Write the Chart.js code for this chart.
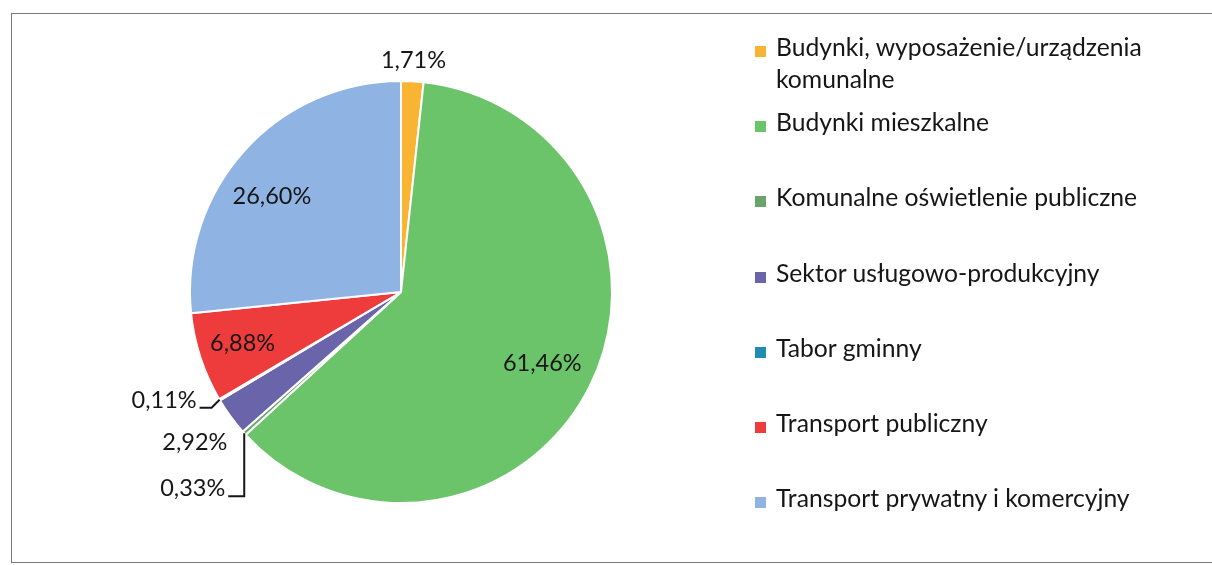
<!DOCTYPE html>
<html>
<head>
<meta charset="utf-8">
<script src="https://cdn.jsdelivr.net/npm/chart.js@4.4.0/dist/chart.umd.min.js"></script>
<style>
    html, body { margin: 0; padding: 0; background: #fff; }
    body { width: 1212px; height: 565px; position: relative; overflow: hidden; font-family: Lato, sans-serif; }
    #frame { position: absolute; left: 11px; top: 13px; width: 1220px; height: 548px; border: 1.5px solid #7a7a7a; }
    #pie { position: absolute; left: 0; top: 0; }
    #legend { position: absolute; left: 755px; top: 31px; color: #161616; font-size: 24.7px; line-height: 32px; }
    .item { position: relative; height: 75.2px; padding-left: 21px; white-space: nowrap; }
    .box { position: absolute; left: 0; top: 15px; width: 11px; height: 11px; }
</style>
</head>
<body>
<div id="frame"></div>
<canvas id="pie" width="800" height="565"></canvas>
<div id="legend"></div>
<script>
const categories = [
    ['Budynki, wyposażenie/urządzenia', 'komunalne'],
    'Budynki mieszkalne',
    'Komunalne oświetlenie publiczne',
    'Sektor usługowo-produkcyjny',
    'Tabor gminny',
    'Transport publiczny',
    'Transport prywatny i komercyjny'
];
const shares = [1.71, 61.46, 0.33, 2.92, 0.11, 6.88, 26.60];
const colors = ['#f9b434', '#6cc46a', '#6aa46a', '#6a64aa', '#1f8db2', '#ee3b3c', '#8fb4e3'];

// how each value label is placed: radial factor (+ small angle shift), or a leader line with an elbow
const labelPlacement = [
    { r: 1.10 },
    { r: 0.75 },
    { leader: [0, 63], run: 16 },
    { r: 1.21 },
    { leader: [-8, 8], run: 12 },
    { r: 0.79 },
    { r: 0.76, shift: -0.1 }
];

const fmt = v => v.toFixed(2).replace('.', ',') + '%';

const valueLabels = {
    id: 'valueLabels',
    afterDatasetsDraw(chart) {
        const ctx = chart.ctx;
        const arcs = chart.getDatasetMeta(0).data;
        ctx.save();
        ctx.font = '23.5px Lato';
        ctx.fillStyle = '#161616';
        ctx.strokeStyle = '#161616';
        ctx.lineWidth = 2;
        arcs.forEach((arc, i) => {
            const { x, y, startAngle, endAngle, outerRadius } = arc.getProps(['x', 'y', 'startAngle', 'endAngle', 'outerRadius'], true);
            const p = labelPlacement[i];
            const mid = (startAngle + endAngle) / 2 + (p.shift || 0);
            if (p.leader) {
                const ex = x + Math.cos(mid) * outerRadius;
                const ey = y + Math.sin(mid) * outerRadius;
                const bx = ex + p.leader[0];
                const by = ey + p.leader[1];
                ctx.beginPath();
                ctx.moveTo(ex, ey);
                ctx.lineTo(bx, by);
                ctx.lineTo(bx - p.run, by);
                ctx.stroke();
                ctx.textAlign = 'right';
                ctx.textBaseline = 'alphabetic';
                ctx.fillText(fmt(shares[i]), bx - p.run - 3, by);
            } else {
                ctx.textAlign = 'center';
                ctx.textBaseline = 'middle';
                ctx.fillText(fmt(shares[i]), x + Math.cos(mid) * outerRadius * p.r, y + Math.sin(mid) * outerRadius * p.r);
            }
        });
        ctx.restore();
    }
};

// eslint-disable-next-line no-undef
new Chart(document.getElementById('pie'), {
    type: 'pie',
    data: {
        labels: categories,
        datasets: [{
            data: shares,
            backgroundColor: colors,
            borderColor: '#ffffff',
            borderWidth: 2
        }]
    },
    options: {
        responsive: false,
        animation: false,
        layout: { padding: { left: 189, right: 187, top: 80, bottom: 61 } },
        plugins: {
            legend: { display: false },
            tooltip: { enabled: false }
        }
    },
    plugins: [valueLabels]
});

// legend
document.getElementById('legend').innerHTML = categories.map((c, i) => `
    <div class="item"><span class="box" style="background: ${colors[i]};"></span>${[].concat(c).join('<br>')}</div>
`).join('');
</script>
</body>
</html>
